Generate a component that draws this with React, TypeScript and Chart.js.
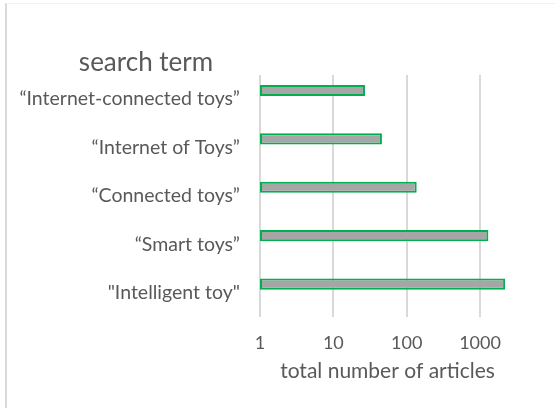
import React, { useEffect, useRef } from "react";
import { Chart, registerables } from "chart.js";

Chart.register(...registerables);

const categories = [
  "“Internet-connected toys”",
  "“Internet of Toys”",
  "“Connected toys”",
  "“Smart toys”",
  "\"Intelligent toy\"",
];
const articleCounts = [27, 46, 137, 1300, 2200];
const emptySeries = [null, null, null, null, null];
const tickValues = [1, 10, 100, 1000];
const yAxisTitle = "search term";
const xAxisTitle = "total number of articles";

const FONT = "Lato, 'Open Sans', sans-serif";
const TEXT = "#595959";

const titlePlugin = {
  id: "searchTermTitle",
  afterDraw(chart: any) {
    const { ctx, chartArea } = chart;
    ctx.save();
    ctx.font = `26px ${FONT}`;
    ctx.fillStyle = TEXT;
    ctx.textAlign = "center";
    ctx.textBaseline = "alphabetic";
    ctx.fillText(yAxisTitle, chartArea.left - 114, chartArea.top - 4);
    ctx.restore();
  },
};

export default function App() {
  const ref = useRef<HTMLCanvasElement>(null);
  useEffect(() => {
    if (!ref.current) return;
    const chart = new Chart(ref.current, {
      type: "bar",
      data: {
        labels: categories,
        datasets: [
          {
            data: articleCounts,
            backgroundColor: "#a6a6a6",
            borderColor: "#00b050",
            borderWidth: 2,
            borderSkipped: false,
            categoryPercentage: 0.72,
            barPercentage: 0.64,
          },
          {
            data: emptySeries as any,
            backgroundColor: "#a6a6a6",
            categoryPercentage: 0.72,
            barPercentage: 0.64,
          },
        ],
      },
      options: {
        indexAxis: "y",
        animation: false,
        responsive: false,
        maintainAspectRatio: false,
        layout: { padding: { top: 75, right: 40, left: 0, bottom: 0 } },
        plugins: { legend: { display: false }, tooltip: { enabled: false } },
        scales: {
          x: {
            type: "logarithmic",
            min: 1,
            max: 3000,
            afterBuildTicks: (scale: any) => {
              scale.ticks = tickValues.map((v) => ({ value: v }));
            },
            afterFit: (scale: any) => {
              scale.height = 91;
            },
            ticks: {
              color: TEXT,
              font: { family: FONT, size: 18 },
              padding: 15,
              maxRotation: 0,
              autoSkip: false,
              callback: (v: any) => String(v),
            },
            grid: { color: "#d9d9d9", lineWidth: 2, drawTicks: false },
            border: { display: false },
            title: {
              display: true,
              text: xAxisTitle,
              color: TEXT,
              font: { family: FONT, size: 21 },
              padding: { top: 0, bottom: 24 },
            },
          },
          y: {
            afterFit: (scale: any) => {
              scale.width = 260;
            },
            ticks: {
              color: TEXT,
              font: { family: FONT, size: 19.5 },
              padding: 20,
            },
            grid: { display: false, drawTicks: false },
            border: { display: false },
          },
        },
      },
      plugins: [titlePlugin],
    });
    return () => chart.destroy();
  }, []);
  return (
    <div style={{ position: "absolute", left: 0, top: 0, width: 555, height: 408, background: "#fff" }}>
      <div
        style={{
          position: "absolute",
          left: 5,
          top: 3,
          width: 560,
          height: 420,
          borderLeft: "2px solid #d9d9d9",
          borderTop: "1px solid #f2f2f2",
        }}
      />
      <canvas ref={ref} width={555} height={408} style={{ position: "absolute", left: 0, top: 0 }} />
    </div>
  );
}
